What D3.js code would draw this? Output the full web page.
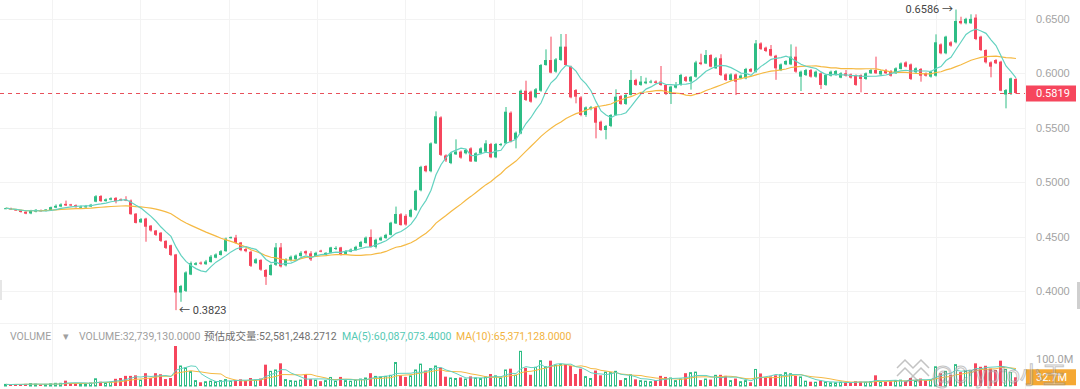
<!DOCTYPE html>
<meta charset="utf-8">
<style>
body { margin: 0; background: #fff; }
svg { display: block; font-family: Roboto, "Noto Sans CJK SC", sans-serif; }
.axis text { fill: #a3a3a3; font-size: 11px; }
.axis path, .axis line { display: none; }
.grid line { stroke: #f3f3f3; shape-rendering: crispEdges; }
.legend text { font-size: 10.5px; }
</style>
<body>
<script src="https://d3js.org/d3.v7.min.js"></script>
<script>

// candles, oldest first
var opens = [
.4755,.4760,.4748,.4740,.4728,.4712,.4728,.4740,.4735,.4742,
.4765,.4775,.4800,.4795,.4788,.4765,.4768,.4775,.4820,.4872,
.4825,.4838,.4855,.4842,.4840,.4830,.4710,.4630,.4665,.4600,
.4555,.4535,.4460,.4420,.4335,.3985,.4000,.4150,.4240,.4260,
.4245,.4265,.4305,.4330,.4365,.4485,.4490,.4445,.4385,.4360,
.4255,.4285,.4192,.4146,.4240,.4400,.4235,.4284,.4290,.4320,
.4365,.4345,.4320,.4370,.4330,.4350,.4385,.4400,.4340,.4360,
.4375,.4405,.4440,.4495,.4405,.4465,.4485,.4515,.4620,.4705,
.4690,.4682,.4744,.4925,.5148,.5100,.5356,.5595,.5245,.5175,
.5255,.5280,.5265,.5310,.5190,.5264,.5280,.5350,.5228,.5340,
.5356,.5638,.5393,.5448,.5840,.5831,.5779,.5840,.6076,.6122,
.6015,.6122,.6245,.6061,.5846,.5779,.5617,.5672,.5687,.5555,
.5479,.5516,.5617,.5791,.5718,.5801,.5939,.5893,.5908,.5915,
.5925,.5924,.5893,.5810,.5868,.5893,.5965,.5925,.5968,.6100,
.6090,.6168,.6046,.6138,.5990,.5938,.5990,.5955,.5954,.6040,
.6015,.6275,.6236,.6223,.6162,.6030,.6082,.6082,.6153,.5969,
.5984,.6030,.5969,.6000,.5893,.5978,.5984,.5960,.6000,.5990,
.5984,.5984,.5948,.6000,.6030,.5990,.6030,.6021,.6000,.6040,
.6100,.6082,.6010,.6040,.6000,.5969,.5978,.6266,.6184,.6285,
.6285,.6481,.6460,.6460,.6512,.6337,.6214,.6101,.6122,.6107,
.5805,.5820,.5948];

var highs = [
.4765,.4765,.4752,.4745,.4732,.4745,.4752,.4748,.4752,.4775,
.4795,.4805,.4830,.4800,.4795,.4785,.4790,.4800,.4880,.4880,
.4850,.4860,.4862,.4850,.4870,.4840,.4715,.4670,.4672,.4605,
.4560,.4540,.4465,.4425,.4340,.4055,.4180,.4270,.4265,.4270,
.4285,.4330,.4345,.4375,.4490,.4500,.4515,.4450,.4395,.4370,
.4300,.4290,.4200,.4250,.4440,.4440,.4300,.4325,.4335,.4365,
.4372,.4365,.4360,.4378,.4355,.4405,.4410,.4405,.4375,.4390,
.4415,.4460,.4500,.4565,.4480,.4500,.4525,.4635,.4775,.4715,
.4705,.4755,.4930,.5150,.5155,.5365,.5650,.5605,.5255,.5275,
.5393,.5290,.5305,.5320,.5275,.5320,.5385,.5360,.5360,.5360,
.5690,.5650,.5465,.5850,.5932,.5840,.5865,.6085,.6220,.6337,
.6140,.6361,.6361,.6070,.5855,.5790,.5695,.5700,.5695,.5565,
.5525,.5625,.5853,.5800,.5810,.6030,.5950,.5975,.5960,.5940,
.5935,.6067,.5900,.5885,.5920,.5995,.5975,.5975,.6115,.6180,
.6214,.6175,.6150,.6175,.6000,.6000,.5998,.5990,.6050,.6048,
.6306,.6285,.6245,.6260,.6170,.6090,.6120,.6266,.6245,.6025,
.6040,.6040,.6025,.6008,.5995,.6025,.6030,.6010,.6030,.5998,
.5990,.5990,.6008,.6040,.6153,.6030,.6040,.6030,.6055,.6100,
.6110,.6090,.6055,.6048,.6008,.6025,.6358,.6275,.6345,.6295,
.6586,.6520,.6510,.6542,.6542,.6345,.6220,.6110,.6130,.6115,
.5855,.5960,.5955];

var lows = [
.4752,.4745,.4735,.4720,.4705,.4705,.4722,.4730,.4730,.4735,
.4760,.4770,.4780,.4780,.4765,.4760,.4762,.4770,.4815,.4818,
.4820,.4832,.4805,.4825,.4825,.4700,.4620,.4625,.4452,.4545,
.4505,.4450,.4385,.4320,.3823,.3900,.3990,.4145,.4235,.4240,
.4240,.4260,.4300,.4325,.4360,.4480,.4435,.4365,.4355,.4220,
.4250,.4185,.4055,.4140,.4230,.4215,.4225,.4270,.4285,.4315,
.4330,.4275,.4315,.4355,.4325,.4345,.4375,.4325,.4335,.4355,
.4370,.4400,.4435,.4400,.4390,.4460,.4480,.4510,.4615,.4600,
.4600,.4675,.4735,.4915,.5090,.5090,.5350,.5240,.5185,.5165,
.5250,.5215,.5255,.5185,.5185,.5255,.5275,.5220,.5220,.5330,
.5350,.5365,.5310,.5440,.5745,.5730,.5770,.5830,.6070,.6000,
.6005,.6115,.6070,.5770,.5724,.5605,.5600,.5660,.5402,.5470,
.5393,.5505,.5610,.5710,.5710,.5795,.5885,.5885,.5900,.5908,
.5905,.5885,.5800,.5718,.5860,.5885,.5920,.5850,.5960,.6075,
.6085,.6055,.6040,.5975,.5930,.5930,.5800,.5945,.5945,.6010,
.6005,.6215,.6195,.6155,.5940,.6020,.6075,.6075,.6005,.5837,
.5975,.5960,.5960,.5856,.5885,.5970,.5978,.5955,.5970,.5952,
.5885,.5825,.5940,.5995,.5995,.5985,.5995,.5970,.5995,.6035,
.6055,.5938,.6000,.5923,.5970,.5960,.5970,.6175,.6175,.6245,
.6275,.6450,.6450,.6455,.6305,.6205,.6090,.5963,.6085,.5835,
.5678,.5800,.5810];

var closes = [
.4760,.4748,.4740,.4725,.4710,.4738,.4745,.4735,.4748,.4770,
.4782,.4795,.4785,.4785,.4770,.4775,.4778,.4792,.4870,.4825,
.4842,.4852,.4825,.4830,.4830,.4705,.4625,.4660,.4590,.4555,
.4515,.4460,.4395,.4330,.3985,.4045,.4170,.4255,.4255,.4250,
.4270,.4315,.4335,.4365,.4480,.4495,.4440,.4375,.4365,.4230,
.4290,.4195,.4130,.4238,.4400,.4225,.4290,.4314,.4325,.4350,
.4345,.4290,.4350,.4360,.4350,.4400,.4395,.4335,.4365,.4380,
.4405,.4450,.4490,.4405,.4470,.4490,.4515,.4627,.4707,.4605,
.4610,.4744,.4920,.5140,.5100,.5356,.5605,.5250,.5200,.5264,
.5280,.5225,.5295,.5190,.5265,.5310,.5356,.5228,.5350,.5350,
.5647,.5372,.5454,.5840,.5755,.5739,.5853,.6076,.6122,.6006,
.6128,.6245,.6076,.5779,.5785,.5617,.5687,.5687,.5546,.5479,
.5516,.5617,.5785,.5718,.5801,.5939,.5893,.5924,.5924,.5925,
.5912,.5893,.5810,.5878,.5893,.5985,.5930,.5968,.6100,.6085,
.6168,.6061,.6138,.5984,.5938,.5990,.5923,.5980,.6040,.6015,
.6275,.6223,.6205,.6162,.6046,.6082,.6113,.6153,.6015,.6015,
.6030,.5969,.6015,.5893,.5984,.6015,.6021,.6000,.5978,.5960,
.5893,.5948,.6000,.6030,.6000,.6021,.6000,.5978,.6046,.6091,
.6061,.5948,.6046,.5978,.5978,.6015,.6285,.6184,.6337,.6254,
.6481,.6460,.6500,.6500,.6315,.6214,.6101,.6061,.6092,.5840,
.5846,.5954,.5819];

// volume, millions
var volumes = [
6,5,7,6,8,9,7,5,6,8,
10,10,20,11,10,9,8,11,27,16,
12,14,27,30,38,38,40,22,48,30,
48,44,26,30,150,75,68,54,20,14,
16,18,16,20,24,18,22,25,20,30,
22,28,80,55,60,85,24,20,18,22,
45,26,22,18,20,32,18,34,20,18,
22,26,30,48,36,34,36,40,88,40,
34,38,60,82,58,65,75,68,35,30,
28,32,26,36,30,28,34,45,38,30,
60,65,40,130,68,42,70,95,72,95,
78,80,82,75,45,65,35,28,58,40,
52,50,55,22,28,42,25,20,18,16,
22,38,34,30,20,26,48,50,52,22,
26,24,40,42,38,20,28,16,20,14,
62,47,32,36,40,42,50,46,38,34,
18,16,14,20,15,12,12,14,13,14,
18,16,14,16,40,14,16,18,20,22,
18,30,20,28,22,24,72,48,55,42,
80,52,58,55,85,72,76,65.3,60,95,
62,50.7,32.73913];

var priceTicks = [0.40, 0.45, 0.50, 0.55, 0.60, 0.65];
var lastPrice = 0.5819;
var volTickLabel = [100, "100.0M"];
var lastVolLabel = "32.7M";
var legendItems = [
  {text: "VOLUME", color: "#a0a0a0", x: 10},
  {text: "\u25BE", color: "#a0a0a0", x: 63},
  {text: "VOLUME:32,739,130.0000", color: "#a0a0a0", x: 79},
  {text: "\u9884\u4f30\u6210\u4ea4\u91cf:52,581,248.2712", color: "#707070", x: 204},
  {text: "MA(5):60,087,073.4000", color: "#55c9b4", x: 342},
  {text: "MA(10):65,371,128.0000", color: "#f2b33d", x: 456}
];

var green = "#2ebd85", red = "#f6465d", teal = "#63d2c0", orange = "#f5b943";
var width = 1080, height = 389, plotRight = 1025;

var n = closes.length;
var data = d3.range(n).map(function(i) {
  return {i: i, o: opens[i], h: highs[i], l: lows[i], c: closes[i], v: volumes[i]};
});

function movingAvg(arr, k) {
  return arr.map(function(d, i) { return d3.mean(arr.slice(Math.max(0, i - k + 1), i + 1)); });
}

var x = d3.scaleBand().domain(d3.range(n)).range([3, 1018]).paddingInner(0.4).paddingOuter(0.2);
var y = d3.scaleLinear().domain([0.40, 0.65]).range([290.9, 18.9]);
var yv = d3.scaleLinear().domain([0, 150]).range([386, 346]);
function cx(i) { return x(i) + x.bandwidth() / 2 + 0.5; }

var svg = d3.select("body").append("svg")
    .attr("width", width)
    .attr("height", height);

svg.append("defs").append("clipPath").attr("id", "plot")
  .append("rect").attr("x", 0).attr("y", 0).attr("width", plotRight).attr("height", height);

// grid
var grid = svg.append("g").attr("class", "grid");
grid.selectAll(".hg").data(priceTicks).join("line")
    .attr("x1", 0).attr("x2", plotRight)
    .attr("y1", function(d) { return Math.round(y(d)) + 0.5; })
    .attr("y2", function(d) { return Math.round(y(d)) + 0.5; });
grid.selectAll(".vg").data(d3.range(9.33, n, 17.667)).join("line")
    .attr("x1", function(d) { return Math.round(x(0) + 1.5 + d * x.step()) + 0.5; })
    .attr("x2", function(d) { return Math.round(x(0) + 1.5 + d * x.step()) + 0.5; })
    .attr("y1", 0).attr("y2", height);
grid.append("line").attr("x1", plotRight + 0.5).attr("x2", plotRight + 0.5).attr("y1", 0).attr("y2", height);
grid.append("line").attr("x1", 0).attr("x2", plotRight).attr("y1", 323.5).attr("y2", 323.5);

// price axis
svg.append("g")
    .attr("class", "axis")
    .attr("transform", "translate(1036,0)")
    .call(d3.axisRight(y).tickValues(priceTicks).tickFormat(d3.format(".4f")).tickSize(0).tickPadding(0));

var plot = svg.append("g").attr("clip-path", "url(#plot)");

// candles
var candle = plot.append("g").selectAll("g").data(data).join("g");
candle.append("line")
    .attr("x1", function(d) { return cx(d.i); })
    .attr("x2", function(d) { return cx(d.i); })
    .attr("y1", function(d) { return y(d.h); })
    .attr("y2", function(d) { return y(d.l); })
    .attr("stroke", function(d) { return d.c >= d.o ? green : red; });
candle.append("rect")
    .attr("x", function(d) { return x(d.i); })
    .attr("width", x.bandwidth())
    .attr("y", function(d) { return y(Math.max(d.o, d.c)); })
    .attr("height", function(d) { return Math.max(1, Math.abs(y(d.o) - y(d.c))); })
    .attr("fill", function(d) { return d.c >= d.o ? green : red; });

// moving averages
var line = d3.line().x(function(d, i) { return cx(i); }).y(function(d) { return y(d); });
plot.append("path").datum(movingAvg(closes, 25))
    .attr("fill", "none").attr("stroke", orange).attr("stroke-width", 1.2).attr("d", line);
plot.append("path").datum(movingAvg(closes, 7))
    .attr("fill", "none").attr("stroke", teal).attr("stroke-width", 1.2).attr("d", line);

// last price
var ly = Math.round(y(lastPrice)) + 0.5;
svg.append("line").attr("x1", 0).attr("x2", plotRight).attr("y1", ly).attr("y2", ly)
    .attr("stroke", "#e8505b").attr("stroke-dasharray", "4,4");
svg.append("rect").attr("x", 1026).attr("y", ly - 8).attr("width", 50).attr("height", 16).attr("fill", red);
svg.append("text").attr("x", 1036).attr("y", ly).attr("dy", "0.35em")
    .attr("fill", "#fff").attr("font-size", "11px").text(d3.format(".4f")(lastPrice));

// high / low markers
var hi = d3.maxIndex(highs), lo = d3.minIndex(lows);
svg.append("text").attr("x", cx(hi) - 3).attr("y", y(highs[hi])).attr("dy", "0.35em")
    .attr("text-anchor", "end").attr("fill", "#444").attr("font-size", "11px")
    .text(d3.format(".4f")(highs[hi]) + " \u2192");
svg.append("text").attr("x", cx(lo) + 3).attr("y", y(lows[lo])).attr("dy", "0.35em")
    .attr("fill", "#444").attr("font-size", "11px")
    .text("\u2190 " + d3.format(".4f")(lows[lo]));

// volume
var vol = svg.append("g").attr("clip-path", "url(#plot)");
vol.selectAll("rect").data(data).join("rect")
    .attr("x", function(d) { return d.c >= d.o ? x(d.i) + 0.5 : x(d.i); })
    .attr("width", function(d) { return d.c >= d.o ? x.bandwidth() - 1 : x.bandwidth(); })
    .attr("y", function(d) { return yv(d.v); })
    .attr("height", function(d) { return yv(0) - yv(d.v); })
    .attr("fill", function(d) { return d.c >= d.o ? "#fff" : red; })
    .attr("stroke", function(d) { return d.c >= d.o ? green : "none"; });
var vline = d3.line().x(function(d, i) { return cx(i); }).y(function(d) { return yv(d); });
vol.append("path").datum(movingAvg(volumes, 10))
    .attr("fill", "none").attr("stroke", orange).attr("stroke-width", 1).attr("d", vline);
vol.append("path").datum(movingAvg(volumes, 5))
    .attr("fill", "none").attr("stroke", teal).attr("stroke-width", 1).attr("d", vline);

svg.append("text").attr("x", 1036).attr("y", yv(volTickLabel[0])).attr("dy", "0.35em")
    .attr("fill", "#a3a3a3").attr("font-size", "11px").text(volTickLabel[1]);
var lv = yv(volumes[n - 1]);
svg.append("rect").attr("x", 1026).attr("y", lv - 8).attr("width", 50).attr("height", 16).attr("fill", "#f5a833");
svg.append("text").attr("x", 1036).attr("y", lv).attr("dy", "0.35em")
    .attr("fill", "#fff").attr("font-size", "11px").text(lastVolLabel);

// legend
svg.append("g").attr("class", "legend").selectAll("text").data(legendItems).join("text")
    .attr("x", function(d) { return d.x; })
    .attr("y", 340)
    .attr("fill", function(d) { return d.color; })
    .text(function(d) { return d.text; });

// watermark
var wm = svg.append("g").attr("opacity", 0.5);
wm.append("path")
    .attr("d", "M897,368 l8,-8 l8,8 l8,-8 l8,8 M897,376 l8,-8 l8,8 l8,-8 l8,8 M905,384 l8,-8 l8,8")
    .attr("fill", "none").attr("stroke", "#888").attr("stroke-width", 1.5);
wm.append("text").attr("x", 932).attr("y", 383)
    .attr("font-size", "23px").attr("fill", "#fff").attr("stroke", "#8a8a8a").attr("stroke-width", 1)
    .text("@Crypto\u5c0f\u738b");

// scrollbar stubs at the edges
svg.append("rect").attr("x", 1077).attr("y", 282).attr("width", 3).attr("height", 27).attr("fill", "#cfcfcf");
svg.append("rect").attr("x", 0).attr("y", 280).attr("width", 2).attr("height", 20).attr("fill", "#e6e6e6");

</script>
